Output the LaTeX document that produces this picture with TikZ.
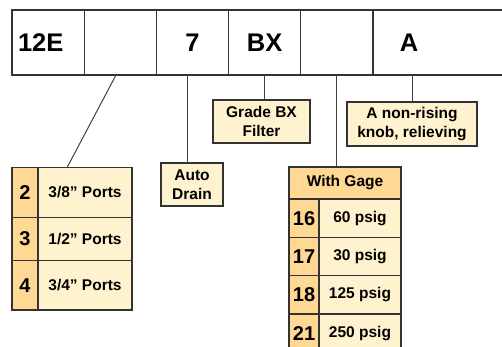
\documentclass[tikz,border=0pt]{standalone}
\usepackage{fontspec}
\setmainfont{Liberation Sans}
\usepackage{xcolor}
\usepackage{tikz}
\usetikzlibrary{positioning,calc}
\definecolor{paleyellow}{RGB}{255,242,206}
\definecolor{deeporange}{RGB}{255,216,148}
\definecolor{edgegray}{RGB}{51,51,51}
\definecolor{wiregray}{RGB}{64,64,64}
\tikzset{
  codecell/.style={rectangle, draw=edgegray, line width=1.1pt, fill=white,
                   minimum width=72.2pt, minimum height=65pt, inner sep=0pt,
                   outer sep=0pt, font=\fontsize{25.5}{28}\selectfont\bfseries},
  notebox/.style={rectangle, draw=edgegray, line width=1.2pt, fill=paleyellow,
                  align=center, inner sep=0pt, outer sep=0pt,
                  font=\fontsize{15.5}{18.5}\selectfont\bfseries},
  numcell/.style={notebox, fill=deeporange, anchor=north west,
                  font=\fontsize{20}{22}\selectfont\bfseries},
  txtcell/.style={notebox, anchor=north west},
  link/.style={draw=wiregray, line width=1pt},
}
\begin{document}
\begin{tikzpicture}[x=1pt, y=-1pt]
  \useasboundingbox (0,0) rectangle (502,346);
  \clip (0,0) rectangle (502,346);
  % model code row
  \node[codecell, anchor=north west, align=left, text width=60.2pt, inner xsep=6pt] (c1) at (12,10) {12E};
  \foreach \i/\t [remember=\i as \j (initially 1)] in {2/,3/7,4/BX,5/}
    \node[codecell, anchor=west] (c\i) at (c\j.east) {\t};
  \node[codecell, anchor=west, minimum width=160pt] (c6) at (c5.east) {};
  \node[font=\fontsize{25.5}{28}\selectfont\bfseries] (atxt) at ([xshift=36.1pt]c6.west) {A};
  % option boxes
  \node[notebox, minimum width=97pt, minimum height=43pt] (bxbox) at (261.5,121.5) {Grade BX\\Filter};
  \node[notebox, minimum width=130pt, minimum height=44pt] (knob) at (412,124) {A non-rising\\knob, relieving};
  \node[notebox, minimum width=62pt, minimum height=43pt] (drain) at (192,184.5) {Auto\\Drain};
  % port sizes
  \foreach \n/\t/\y/\h in {2/{3/8” Ports}/167.7/49.6, 3/{1/2” Ports}/217.3/43.4, 4/{3/4” Ports}/260.7/49.3} {
    \node[numcell, minimum width=26pt, minimum height=\h] (pn\n) at (12,\y) {\n};
    \node[txtcell, minimum width=94pt, minimum height=\h] (pt\n) at (pn\n.north east) {\t};
  }
  % gage options
  \node[notebox, fill=deeporange, minimum width=112pt, minimum height=32pt, anchor=north west] (gage) at (289,167) {With Gage};
  \foreach \n/\t/\y in {16/60 psig/199, 17/30 psig/237.3, 18/125 psig/275.6, 21/250 psig/313.9} {
    \node[numcell, minimum width=30pt, minimum height=38.3pt] (gn\n) at (289,\y) {\n};
    \node[txtcell, minimum width=82pt, minimum height=38.3pt] (gt\n) at (gn\n.north east) {\t};
  }
  % connectors
  \draw[link] ([xshift=-4.3pt]c2.south) -- ([xshift=-18pt]pt2.north);
  \draw[link] ([xshift=-5.5pt]c3.south) -- ([xshift=-5.5pt]c3.south |- drain.north);
  \draw[link] (c4.south) -- (c4.south |- bxbox.north);
  \draw[link] (c5.south) -- (c5.south |- gage.north);
  \draw[link] (knob.north |- c6.south) -- (knob.north);
\end{tikzpicture}
\end{document}
